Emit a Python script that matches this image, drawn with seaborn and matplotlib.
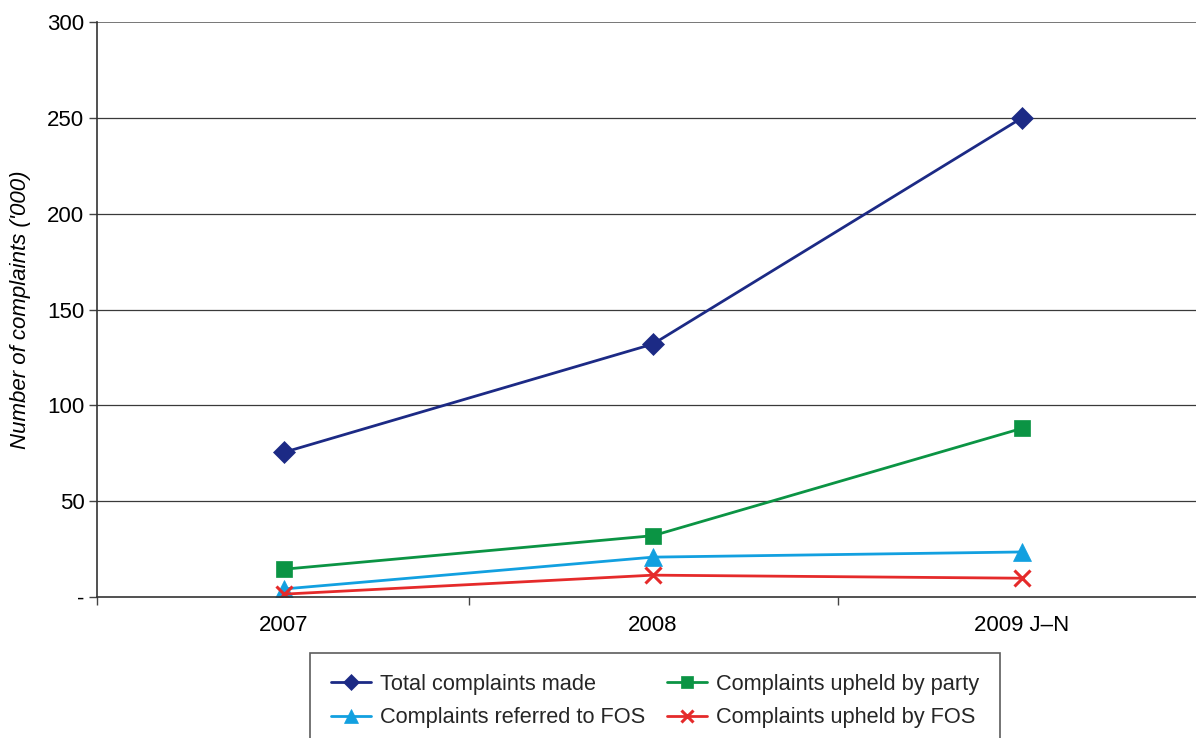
import matplotlib
matplotlib.use("Agg")
import matplotlib.pyplot as plt
import seaborn as sns
import pandas as pd

# Complaint volumes, thousands
periods = ["2007", "2008", "2009 J\u2013N"]
total_made = [75.5, 132, 250]
upheld_by_party = [14.5, 32, 88]
referred_to_fos = [4.2, 20.8, 23.5]
upheld_by_fos = [1.5, 11.4, 9.8]

series_names = [
    "Total complaints made",
    "Complaints referred to FOS",
    "Complaints upheld by party",
    "Complaints upheld by FOS",
]
series_values = [total_made, referred_to_fos, upheld_by_party, upheld_by_fos]
colors = ["#1c2a85", "#12a0e0", "#0b9444", "#e52a2a"]
markers = ["D", "^", "s", "x"]
msizes = [11, 13, 12, 11]

rows = []
for name, vals in zip(series_names, series_values):
    for i, v in enumerate(vals):
        rows.append({"pos": i, "value": v, "series": name})
df = pd.DataFrame(rows)

sns.set_theme(style="white")
plt.rcParams["font.family"] = ["Liberation Sans", "DejaVu Sans"]

fig = plt.figure(figsize=(11.96, 7.38), dpi=100)
ax = fig.add_axes([97 / 1196, 1 - 597 / 738, 1 - 97 / 1196, (597 - 22) / 738])

for name, c, m, ms in zip(series_names, colors, markers, msizes):
    sub = df[df["series"] == name]
    sns.lineplot(data=sub, x="pos", y="value", ax=ax, color=c, marker=m,
                 markersize=ms, linewidth=2.0, label=name,
                 markeredgecolor=c, markeredgewidth=2.2 if m == "x" else 0.5)

ax.set_xlim(-0.507, 2.4715)
ax.set_ylim(0, 300)
ax.set_yticks([0, 50, 100, 150, 200, 250, 300])
ax.set_yticklabels(["-", "50", "100", "150", "200", "250", "300"])
ax.set_xticks(range(len(periods)))
ax.set_xticklabels(periods)
ax.set_xticks([-0.507, 0.5, 1.5], minor=True)
ax.tick_params(axis="x", which="major", length=0, labelsize=16, pad=13, colors="black")
ax.tick_params(axis="x", which="minor", length=6, width=1.0, color="#444444", bottom=True)
ax.tick_params(axis="y", length=6, width=1.0, color="#444444", left=True,
               labelsize=16, pad=3, labelcolor="black")
ax.set_xlabel("")
ax.set_ylabel("Number of complaints ('000)", fontsize=16, fontstyle="italic",
              labelpad=12, color="black")

for y in [50, 100, 150, 200, 250, 300]:
    ax.axhline(y, color="#3a3a3a" if y != 300 else "#777777",
               linewidth=0.9 if y != 300 else 1.4, zorder=0)

for side in ["top", "right"]:
    ax.spines[side].set_visible(False)
for side in ["left", "bottom"]:
    ax.spines[side].set_color("#333333")
    ax.spines[side].set_linewidth(1.2)

ax.get_legend().remove()
handles, labels = ax.get_legend_handles_labels()
leg = fig.legend(handles, labels, ncol=2, loc="upper left",
                 bbox_to_anchor=(310 / 1196, 1 - 653 / 738), borderaxespad=0,
                 fontsize=15.7, frameon=True, fancybox=False,
                 edgecolor="#333333", handlelength=1.85, handletextpad=0.4,
                 columnspacing=1.0, borderpad=0.95, labelspacing=0.58,
                 markerscale=0.75)
leg.get_frame().set_linewidth(1.2)

fig.savefig("out.png", dpi=100, facecolor="white")
